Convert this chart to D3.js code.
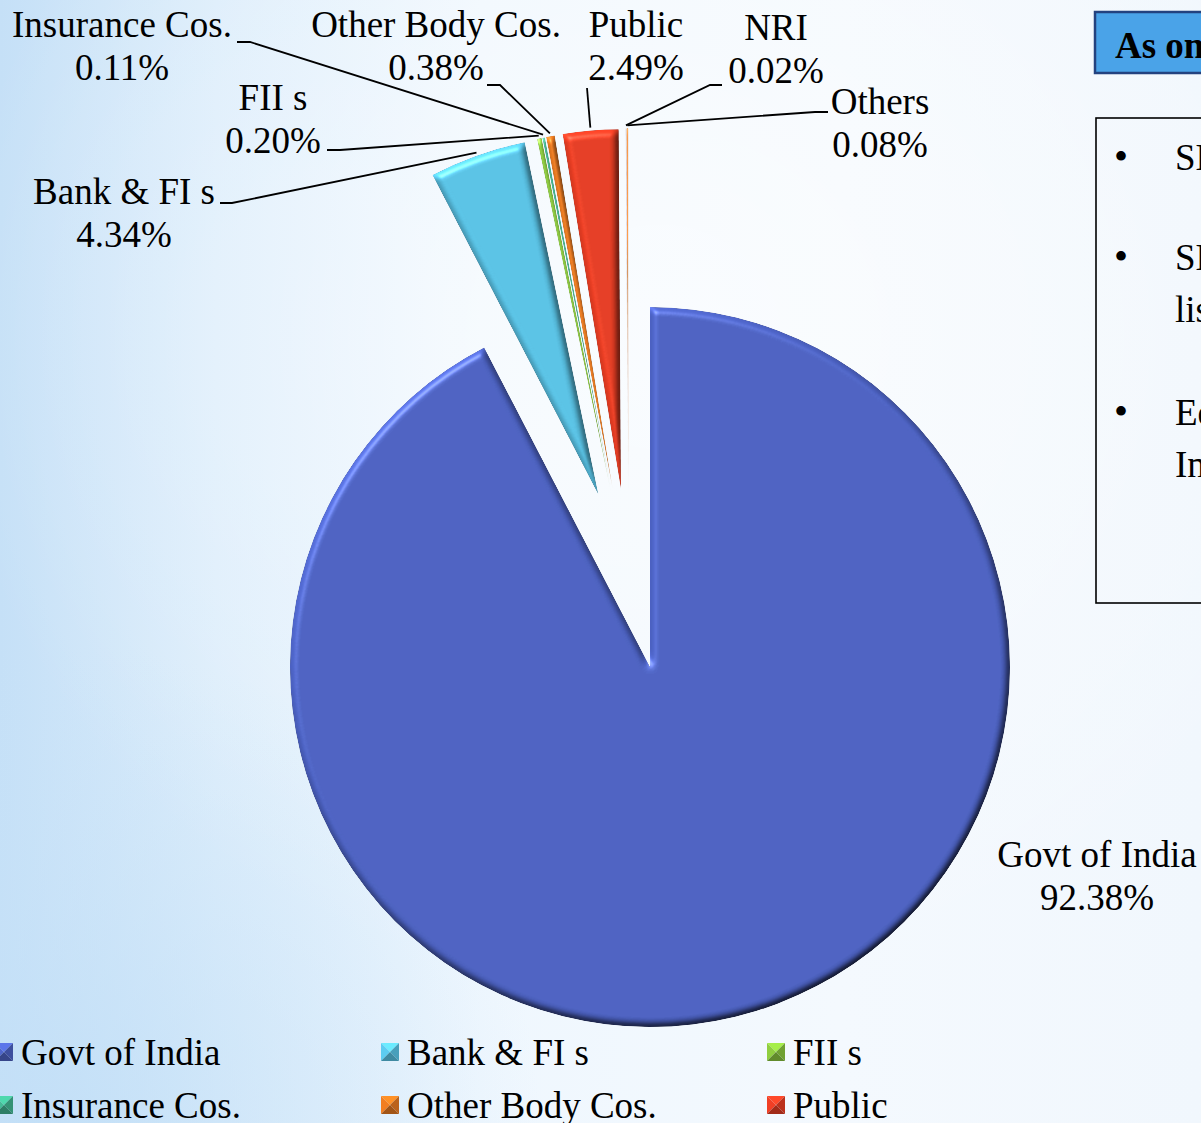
<!DOCTYPE html>
<html>
<head>
<meta charset="utf-8">
<script src="https://cdn.jsdelivr.net/npm/d3@7"></script>
<style>
  html, body { margin: 0; padding: 0; overflow: hidden; }
  svg { display: block; }
  text { font-family: "Liberation Serif", "Times New Roman", serif; fill: #000; }
</style>
</head>
<body>
<svg id="chart" width="1201" height="1123"></svg>
<script>
// ---------------- data ----------------
const categories = ["Govt of India", "Bank & FI s", "FII s", "Insurance Cos.", "Other Body Cos.", "Public", "NRI", "Others"];
const shares = [92.38, 4.34, 0.20, 0.11, 0.38, 2.49, 0.02, 0.08];
const colors = ["#4a5fbd", "#57bee0", "#86c03c", "#3fae8c", "#e0751f", "#e03b22", "#8064a2", "#f79646"];
const exploded = [false, true, true, true, true, true, true, true];
const legendCategories = categories.slice(0, 6); // rows visible in the picture
const panelTitle = "As on 31.03.2012";
const panelLines = [["SBI is a listed Public Sector Bank"], ["SBI shares are", "listed on exchanges"], ["Equity held by Govt of", "India is the largest"]];

// ---------------- layout ----------------
const W = 1201, H = 1123;
const cx = 650, cy = 667, R = 360, explodeDist = 180;
const fontSize = 37;
// label layout: text centre, first baseline, leader start point and elbow length
const labelLayout = {
  "Govt of India":   { x: 1097, y: 867 },
  "Bank & FI s":     { x: 124, y: 204, ax: 220, ay: 203, elbow: 12 },
  "FII s":           { x: 273, y: 110, ax: 327, ay: 150, elbow: 13 },
  "Insurance Cos.":  { x: 122, y: 37,  ax: 237, ay: 42,  elbow: 13 },
  "Other Body Cos.": { x: 436, y: 37,  ax: 487, ay: 85,  elbow: 13 },
  "Public":          { x: 636, y: 37,  ax: 587, ay: 88,  elbow: 0 },
  "NRI":             { x: 776, y: 40,  ax: 722, ay: 85,  elbow: -12 },
  "Others":          { x: 880, y: 114, ax: 828, ay: 112, elbow: -13 }
};

const svg = d3.select("#chart");
const defs = svg.append("defs");

// background
const bg = defs.append("linearGradient").attr("id", "bg").attr("x1", 0).attr("x2", 1).attr("y1", 0).attr("y2", 0);
[["0%", "#c5e0f7"], ["18%", "#dcedfb"], ["40%", "#eff7fe"], ["70%", "#f4f9fe"], ["100%", "#f1f7fd"]]
  .forEach(([o, c]) => bg.append("stop").attr("offset", o).attr("stop-color", c));
const bg2 = defs.append("radialGradient").attr("id", "glow").attr("cx", 0.55).attr("cy", 0.3).attr("r", 0.6);
bg2.append("stop").attr("offset", "0%").attr("stop-color", "#ffffff").attr("stop-opacity", 0.6);
bg2.append("stop").attr("offset", "100%").attr("stop-color", "#ffffff").attr("stop-opacity", 0);
const bg3 = defs.append("radialGradient").attr("id", "bottomBlue").attr("gradientUnits", "userSpaceOnUse")
  .attr("cx", 60).attr("cy", 1123).attr("r", 480);
bg3.append("stop").attr("offset", "0%").attr("stop-color", "#c2dff7").attr("stop-opacity", 0.8);
bg3.append("stop").attr("offset", "100%").attr("stop-color", "#c9e3f8").attr("stop-opacity", 0);

svg.append("rect").attr("width", W).attr("height", H).attr("fill", "url(#bg)");
svg.append("rect").attr("width", W).attr("height", H).attr("fill", "url(#glow)");
svg.append("rect").attr("width", W).attr("height", H).attr("fill", "url(#bottomBlue)");

// bevel filter
const f = defs.append("filter").attr("id", "bevel").attr("color-interpolation-filters", "sRGB")
  .attr("x", "-10%").attr("y", "-10%").attr("width", "120%").attr("height", "120%");
f.append("feGaussianBlur").attr("in", "SourceAlpha").attr("stdDeviation", 3.5).attr("result", "blur");
const dl = f.append("feDiffuseLighting").attr("in", "blur").attr("surfaceScale", 4).attr("diffuseConstant", 1)
  .attr("lighting-color", "#ffffff").attr("result", "diff");
dl.append("feDistantLight").attr("azimuth", 235).attr("elevation", 55);
f.append("feComposite").attr("in", "SourceGraphic").attr("in2", "diff").attr("operator", "arithmetic")
  .attr("k1", 1.22).attr("k2", 0).attr("k3", 0).attr("k4", 0).attr("result", "lit");
const sp = f.append("feSpecularLighting").attr("in", "blur").attr("surfaceScale", 4).attr("specularConstant", 0.5)
  .attr("specularExponent", 40).attr("lighting-color", "#ffffff").attr("result", "spec");
sp.append("feDistantLight").attr("azimuth", 235).attr("elevation", 50);
f.append("feComposite").attr("in", "lit").attr("in2", "spec").attr("operator", "arithmetic")
  .attr("k1", 0).attr("k2", 1).attr("k3", 0.5).attr("k4", 0).attr("result", "lit2");
f.append("feComposite").attr("in", "lit2").attr("in2", "SourceAlpha").attr("operator", "in");

// ---------------- pie ----------------
const pie = d3.pie().sort(null).startAngle(0).endAngle(2 * Math.PI).value(d => d);
const arcs = pie(shares);
const arcGen = d3.arc().innerRadius(0).outerRadius(R);

const expArcs = arcs.filter((a, i) => exploded[i]);
const groupMid = (expArcs[0].startAngle + expArcs[expArcs.length - 1].endAngle) / 2;

function offsetOf(a, i) {
  if (!exploded[i]) return [0, 0];
  const bis = (a.startAngle + a.endAngle) / 2;
  const dir = (bis + groupMid) / 2;
  return [explodeDist * Math.sin(dir), -explodeDist * Math.cos(dir)];
}

const g = svg.append("g").attr("transform", `translate(${cx},${cy})`);
g.selectAll("path.slice").data(arcs).enter().append("path")
  .attr("class", "slice")
  .attr("transform", (a, i) => { const o = offsetOf(a, i); return `translate(${o[0]},${o[1]})`; })
  .attr("d", arcGen)
  .attr("fill", (a, i) => colors[i])
  .attr("filter", "url(#bevel)");

// ---------------- labels ----------------
const lbl = svg.append("g");
arcs.forEach((a, i) => {
  const name = categories[i];
  const L = labelLayout[name];
  const t = lbl.append("text").attr("text-anchor", "middle").attr("font-size", fontSize);
  t.append("tspan").attr("x", L.x).attr("y", L.y).text(name);
  t.append("tspan").attr("x", L.x).attr("y", L.y + 43).text(shares[i].toFixed(2) + "%");
  if (L.ax !== undefined) {
    const o = offsetOf(a, i);
    const bis = (a.startAngle + a.endAngle) / 2;
    const tx = cx + o[0] + (R + 3) * Math.sin(bis);
    const ty = cy + o[1] - (R + 3) * Math.cos(bis);
    const pts = [[L.ax, L.ay]];
    if (L.elbow) pts.push([L.ax + L.elbow, L.ay]);
    pts.push([tx, ty]);
    lbl.append("path").attr("d", d3.line()(pts)).attr("fill", "none").attr("stroke", "#000").attr("stroke-width", 1.8);
  }
});

// ---------------- legend ----------------
const legend = svg.append("g");
const colW = 386, rowH = 53, legX = -5, legY = 1043, mk = 18;
legendCategories.forEach((name, i) => {
  const col = i % 3, row = Math.floor(i / 3);
  const x = legX + col * colW, y = legY + row * rowH;
  const c = d3.color(colors[i]);
  const mg = legend.append("g").attr("transform", `translate(${x},${y})`);
  const h = mk / 2;
  const tris = [
    [[0, 0], [mk, 0], [h, h], c.brighter(0.6)],
    [[0, 0], [0, mk], [h, h], c.brighter(0.2)],
    [[mk, 0], [mk, mk], [h, h], c.darker(0.5)],
    [[0, mk], [mk, mk], [h, h], c.darker(0.9)]
  ];
  tris.forEach(tr => mg.append("path").attr("d", d3.line()([tr[0], tr[1], tr[2]]) + "Z").attr("fill", tr[3]));
  legend.append("text").attr("x", x + mk + 8).attr("y", y + 22).attr("font-size", fontSize).text(name);
});

// ---------------- side panel ----------------
const panel = svg.append("g");
panel.append("rect").attr("x", 1095).attr("y", 12).attr("width", 220).attr("height", 61)
  .attr("fill", "#4aa3e8").attr("stroke", "#23427f").attr("stroke-width", 2.5);
panel.append("text").attr("x", 1115).attr("y", 58).attr("font-size", fontSize).attr("font-weight", "bold").text(panelTitle);
panel.append("rect").attr("x", 1096).attr("y", 118).attr("width", 220).attr("height", 485)
  .attr("fill", "none").attr("stroke", "#000").attr("stroke-width", 1.6);
const bulletY = [170, 270, 425];
panelLines.forEach((lines, i) => {
  panel.append("text").attr("x", 1114).attr("y", bulletY[i]).attr("font-size", 40).text("•");
  lines.forEach((ln, j) => {
    panel.append("text").attr("x", 1175).attr("y", bulletY[i] + j * 52).attr("font-size", fontSize).text(ln);
  });
});
</script>
</body>
</html>
